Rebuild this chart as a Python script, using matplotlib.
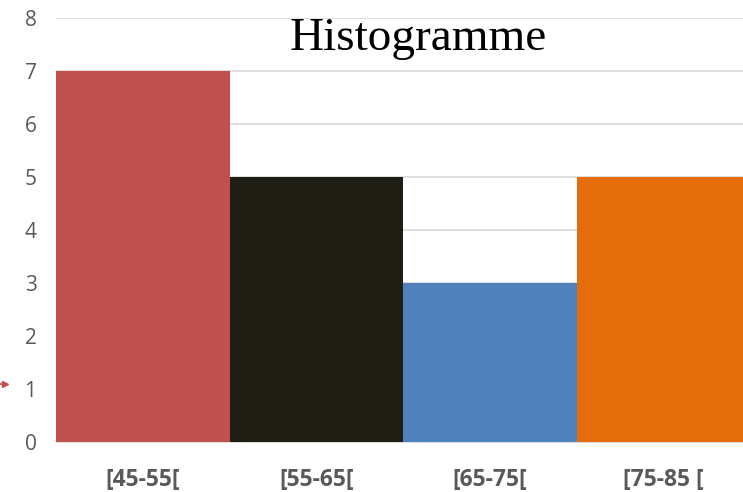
import matplotlib
matplotlib.use("Agg")
import matplotlib.pyplot as plt
from matplotlib.lines import Line2D

# Class intervals and frequencies
classes = ["[45-55[", "[55-65[", "[65-75[", "[75-85 ["]
counts = [7, 5, 3, 5]
colors = ["#C0504D", "#1F1E14", "#4F81BD", "#E46C0A"]
yticks = [0, 1, 2, 3, 4, 5, 6, 7, 8]

W, H = 743, 492
fig = plt.figure(figsize=(W / 100, H / 100), dpi=100)
left, right, top, bottom = 56, 750, 18, 442
ax = fig.add_axes([left / W, 1 - bottom / H, (right - left) / W, (bottom - top) / H])

x = list(range(len(classes)))
ax.bar(x, counts, width=1.0, color=colors, zorder=3)

ax.set_xlim(-0.5, len(classes) - 0.5)
ax.set_ylim(0, 8)
ax.set_yticks(yticks)
ax.set_xticks(x)
ax.set_xticklabels(classes, fontsize=16.5, fontweight="bold", color="#595959",
                   family=["Open Sans", "DejaVu Sans"])
ax.tick_params(axis="x", length=0, pad=19)
ax.tick_params(axis="y", length=0, pad=23 - 9, labelsize=15, labelcolor="#595959")
for lbl in ax.get_yticklabels():
    lbl.set_family(["Open Sans", "DejaVu Sans"])

ax.grid(axis="y", color="#D9D9D9", linewidth=1.2, zorder=0)
for s in ["top", "right", "left"]:
    ax.spines[s].set_visible(False)
ax.spines["bottom"].set_color("#D9D9D9")
ax.spines["bottom"].set_linewidth(1.2)

fig.text(418 / W, 1 - 39 / H, "Histogramme", ha="center", va="center",
         fontsize=34, family=["Liberation Serif", "DejaVu Serif"], color="black")

# small red pointer at the left edge
fig.add_artist(Line2D([0 / W, 5 / W], [1 - 384 / H, 1 - 384 / H], color="#C0504D",
                      linewidth=1.2))
fig.add_artist(Line2D([5 / W], [1 - 384 / H], marker=">", markersize=4,
                      color="#C0504D", linewidth=0))

fig.savefig("out.png", dpi=100)
